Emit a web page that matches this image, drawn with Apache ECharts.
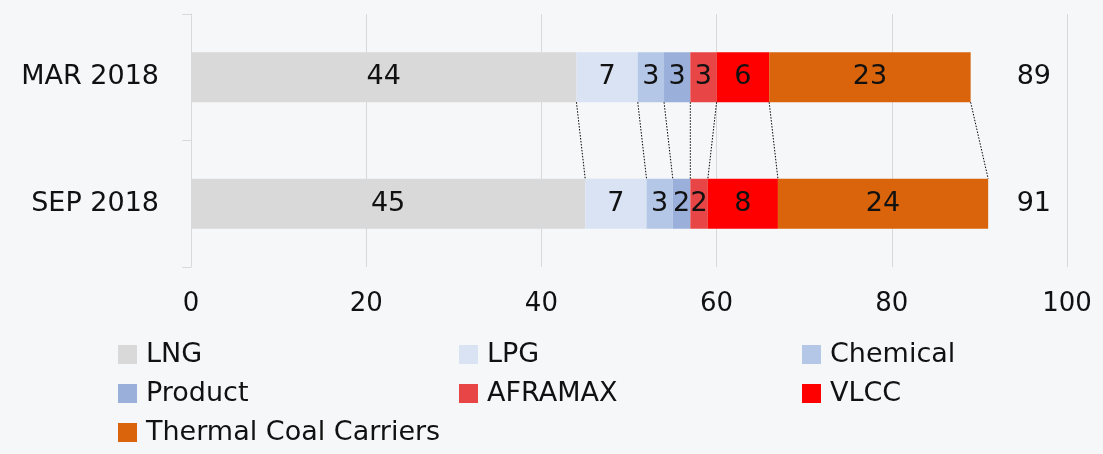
<!DOCTYPE html>
<html>
<head>
<meta charset="utf-8">
<script src="https://cdn.jsdelivr.net/npm/echarts@6/dist/echarts.min.js"></script>
<style>
html,body{margin:0;padding:0;background:#f5f7f9;}
#chart{width:1103px;height:454px;}
</style>
</head>
<body>
<div id="chart"></div>
<script>
const categories = ['MAR 2018', 'SEP 2018'];
const seriesNames = ['LNG', 'LPG', 'Chemical', 'Product', 'AFRAMAX', 'VLCC', 'Thermal Coal Carriers'];
const LNG = [44, 45];
const LPG = [7, 7];
const Chemical = [3, 3];
const Product = [3, 2];
const AFRAMAX = [3, 2];
const VLCC = [6, 8];
const ThermalCoal = [23, 24];
const totals = [89, 91];
const xTicks = [0, 20, 40, 60, 80, 100];

const colors = ['#d9d9d9', '#dae3f3', '#b4c7e7', '#9aafd9', '#e84646', '#ff0000', '#d9640c'];
const valueSets = [LNG, LPG, Chemical, Product, AFRAMAX, VLCC, ThermalCoal];
const FONT = 'DejaVu Sans';
const FS = 27;
const BAR = 50;

// cumulative boundaries for connector lines
const connectors = [];
let c0 = 0, c1 = 0;
valueSets.forEach(v => { c0 += v[0]; c1 += v[1]; connectors.push([c0, c1]); });

const barSeries = seriesNames.map((name, i) => ({
  name: name,
  type: 'bar',
  stack: 'total',
  barWidth: BAR,
  data: valueSets[i],
  itemStyle: { color: colors[i] },
  label: { show: true, position: 'inside', color: '#111', fontFamily: FONT, fontSize: FS },
  emphasis: { disabled: true }
}));

const connectorSeries = {
  type: 'custom',
  silent: true,
  z: 5,
  data: connectors,
  renderItem: function (params, api) {
    const p1 = api.coord([api.value(0), 0]);
    const p2 = api.coord([api.value(1), 1]);
    return {
      type: 'line',
      shape: { x1: p1[0], y1: p1[1] + BAR / 2, x2: p2[0], y2: p2[1] - BAR / 2 },
      style: { stroke: '#000', lineWidth: 1, lineDash: [1.5, 1.5] }
    };
  }
};

const legendText = { fontFamily: FONT, fontSize: FS, color: '#111', lineHeight: 19, padding: [0, 0, 0, 4] };
const legendBase = {
  orient: 'vertical', top: 341, height: 200, padding: 0, itemWidth: 19, itemHeight: 19, itemGap: 12,
  icon: 'rect', textStyle: legendText, selectedMode: false
};

const chart = echarts.init(document.getElementById('chart'));
chart.setOption({
  backgroundColor: '#f5f7f9',
  animation: false,
  grid: { left: 191, right: 36, top: 14, bottom: 187 },
  xAxis: {
    type: 'value', min: xTicks[0], max: xTicks[xTicks.length - 1], interval: xTicks[1] - xTicks[0],
    axisLine: { show: false }, axisTick: { show: false },
    splitLine: { lineStyle: { color: '#d9d9d9', width: 1 } },
    axisLabel: { fontFamily: FONT, fontSize: 26, color: '#111', margin: 24 }
  },
  yAxis: [{
    type: 'category', data: categories, inverse: true,
    axisLine: { lineStyle: { color: '#d9d9d9' } },
    axisTick: { show: true, length: 9, lineStyle: { color: '#d9d9d9' } },
    axisLabel: { fontFamily: FONT, fontSize: FS, color: '#111', margin: 32, padding: [0, 0, 12, 0] }
  }, {
    type: 'category', data: totals.map(String), inverse: true, position: 'right',
    axisLine: { show: false }, axisTick: { show: false },
    axisLabel: { inside: true, margin: 16, fontFamily: FONT, fontSize: FS, color: '#111', padding: [0, 0, 12, 0] }
  }],
  legend: [
    Object.assign({}, legendBase, { left: 118, data: ['LNG', 'Product', 'Thermal Coal Carriers'] }),
    Object.assign({}, legendBase, { left: 459, data: ['LPG', 'AFRAMAX'] }),
    Object.assign({}, legendBase, { left: 802, data: ['Chemical', 'VLCC'] })
  ],
  series: barSeries.concat([connectorSeries])
});
</script>
</body>
</html>
